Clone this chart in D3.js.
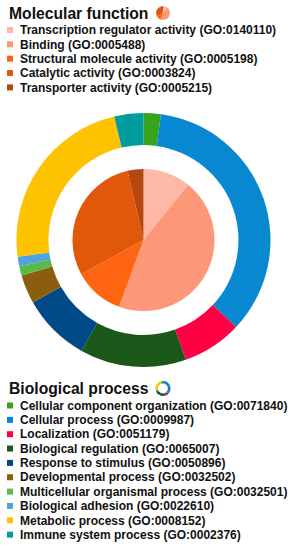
<!DOCTYPE html>
<html><head><meta charset="utf-8">
<script src="https://cdn.jsdelivr.net/npm/d3@7"></script>
<style>body{margin:0;background:#fff}svg{display:block}</style>
</head><body>
<svg id="c" width="293" height="550"></svg>
<script>
const mfLabels = ["Transcription regulator activity (GO:0140110)","Binding (GO:0005488)","Structural molecule activity (GO:0005198)","Catalytic activity (GO:0003824)","Transporter activity (GO:0005215)"];
const mfValues = [10.8, 44.8, 11.4, 29.4, 3.6];
const mfColors = ["#fdb9a6","#fc9877","#ff6410","#e2580b","#b6470f"];

const bpLabels = ["Cellular component organization (GO:0071840)","Cellular process (GO:0009987)","Localization (GO:0051179)","Biological regulation (GO:0065007)","Response to stimulus (GO:0050896)","Developmental process (GO:0032502)","Multicellular organismal process (GO:0032501)","Biological adhesion (GO:0022610)","Metabolic process (GO:0008152)","Immune system process (GO:0002376)"];
const bpValues = [2.2, 34.8, 7.6, 13.5, 8.7, 3.7, 1.2, 1.2, 23.4, 3.7];
const bpColors = ["#38a31f","#0788d0","#fe0043","#1a5718","#004a87","#8c5c0f","#5aba47","#50a4dc","#ffc200","#009c9e"];

const svg = d3.select("#c");
const font = "'Liberation Sans', Arial, sans-serif";
const pie = d3.pie().sort(null).value(d => d);

// main chart
const cx = 143.5, cy = 240;
const g = svg.append("g").attr("transform", `translate(${cx},${cy})`);
const outerArc = d3.arc().innerRadius(95).outerRadius(127);
const innerArc = d3.arc().innerRadius(0).outerRadius(71);
g.selectAll("path.bp").data(pie(bpValues)).join("path").attr("class","bp")
  .attr("d", outerArc).attr("fill", (d,i) => bpColors[i]);
g.selectAll("path.mf").data(pie(mfValues)).join("path").attr("class","mf")
  .attr("d", innerArc).attr("fill", (d,i) => mfColors[i]);

function legend(y0, title, labels, colors, iconFn) {
  const lg = svg.append("g");
  lg.append("text").attr("x", 9).attr("y", y0).attr("font-family", font)
    .attr("font-weight", "bold").attr("font-size", 15.7).attr("fill", "#111").text(title);
  iconFn(lg.append("g").attr("transform", `translate(163,${y0 - 5.5})`));
  labels.forEach((lab, i) => {
    const y = y0 + 11.5 + i * 14.35;
    lg.append("rect").attr("x", 7).attr("y", y - 3).attr("width", 6).attr("height", 6).attr("fill", colors[i]);
    lg.append("text").attr("x", 20).attr("y", y + 4.2).attr("font-family", font)
      .attr("font-weight", "bold").attr("font-size", 12).attr("fill", "#111").text(lab);
  });
}

legend(18.5, "Molecular function", mfLabels, mfColors, ig => {
  ig.selectAll("path").data(pie(mfValues)).join("path")
    .attr("d", d3.arc().innerRadius(0).outerRadius(7)).attr("fill", (d,i) => mfColors[i]);
});
legend(394, "Biological process", bpLabels, bpColors, ig => {
  ig.selectAll("path").data(pie(bpValues)).join("path")
    .attr("d", d3.arc().innerRadius(5).outerRadius(7.5)).attr("fill", (d,i) => bpColors[i]);
});
</script>
</body></html>
